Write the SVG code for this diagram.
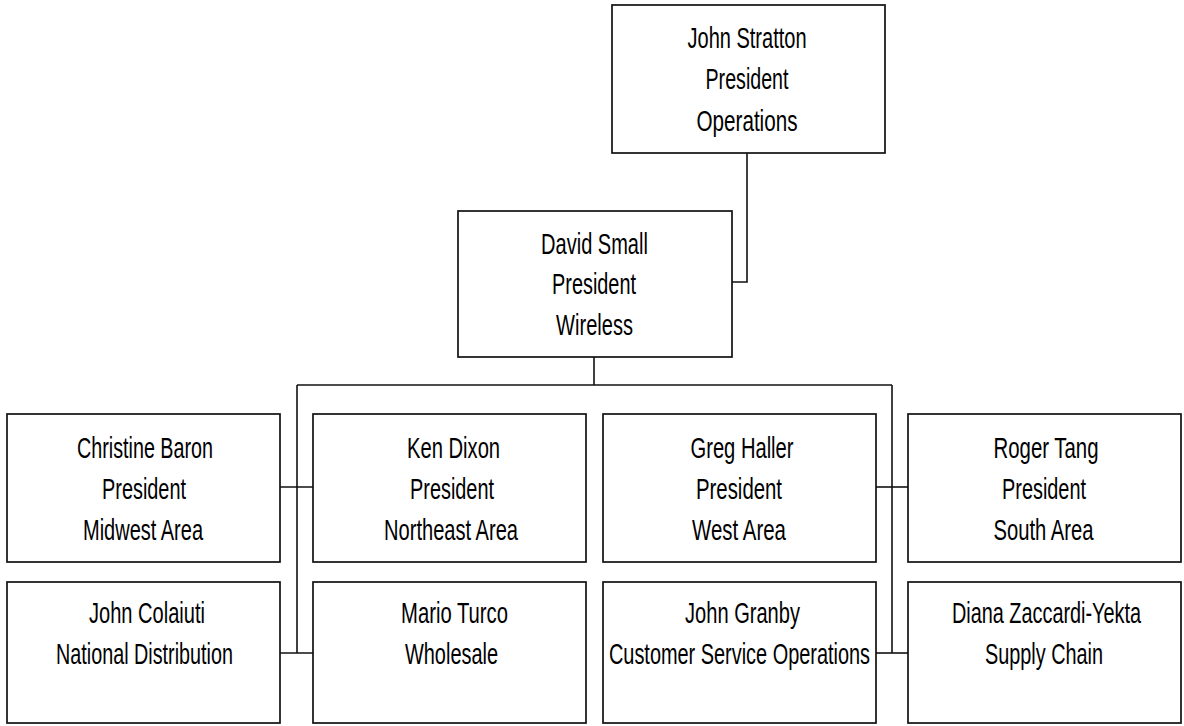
<svg xmlns="http://www.w3.org/2000/svg" width="1184" height="726" viewBox="0 0 1184 726">
<style>
.box{fill:#fff;stroke:#111;stroke-width:1.7}
.ln{fill:none;stroke:#111;stroke-width:1.6}
text{font-family:"Liberation Sans",Arial,sans-serif;font-size:29px;fill:#000;text-anchor:middle}
</style>
<rect width="1184" height="726" fill="#fff"/>
<g id="connectors">
<polyline class="ln" points="747,153 747,282 732,282"/>
<line class="ln" x1="594" y1="357" x2="594" y2="385"/>
<line class="ln" x1="297" y1="385" x2="892" y2="385"/>
<line class="ln" x1="297" y1="385" x2="297" y2="653"/>
<line class="ln" x1="892" y1="385" x2="892" y2="653"/>
<line class="ln" x1="280" y1="487" x2="313" y2="487"/>
<line class="ln" x1="280" y1="653" x2="313" y2="653"/>
<line class="ln" x1="876" y1="487" x2="908" y2="487"/>
<line class="ln" x1="876" y1="653" x2="908" y2="653"/>
</g>
<g id="john-stratton">
<rect class="box" x="612" y="5" width="273" height="148"/>
<text transform="translate(747 48) scale(0.68 1)" textLength="175" lengthAdjust="spacingAndGlyphs">John Stratton</text>
<text transform="translate(747 89) scale(0.68 1)" textLength="122" lengthAdjust="spacingAndGlyphs">President</text>
<text transform="translate(747 131) scale(0.68 1)" textLength="148.5" lengthAdjust="spacingAndGlyphs">Operations</text>
</g>
<g id="david-small">
<rect class="box" x="458" y="211" width="274" height="146"/>
<text transform="translate(594.5 254) scale(0.68 1)" textLength="157" lengthAdjust="spacingAndGlyphs">David Small</text>
<text transform="translate(594 294) scale(0.68 1)" textLength="123.5" lengthAdjust="spacingAndGlyphs">President</text>
<text transform="translate(594.5 335) scale(0.68 1)" textLength="113" lengthAdjust="spacingAndGlyphs">Wireless</text>
</g>
<g id="christine-baron">
<rect class="box" x="7" y="414" width="273" height="148"/>
<text transform="translate(145 458) scale(0.68 1)" textLength="200" lengthAdjust="spacingAndGlyphs">Christine Baron</text>
<text transform="translate(144 499) scale(0.68 1)" textLength="123.5" lengthAdjust="spacingAndGlyphs">President</text>
<text transform="translate(143 540) scale(0.68 1)" textLength="176.5" lengthAdjust="spacingAndGlyphs">Midwest Area</text>
</g>
<g id="ken-dixon">
<rect class="box" x="313" y="414" width="273" height="148"/>
<text transform="translate(453.5 458) scale(0.68 1)" textLength="137" lengthAdjust="spacingAndGlyphs">Ken Dixon</text>
<text transform="translate(452 499) scale(0.68 1)" textLength="123.5" lengthAdjust="spacingAndGlyphs">President</text>
<text transform="translate(451 540) scale(0.68 1)" textLength="197" lengthAdjust="spacingAndGlyphs">Northeast Area</text>
</g>
<g id="greg-haller">
<rect class="box" x="603" y="414" width="273" height="148"/>
<text transform="translate(742 458) scale(0.68 1)" textLength="151.5" lengthAdjust="spacingAndGlyphs">Greg Haller</text>
<text transform="translate(739 499) scale(0.68 1)" textLength="126.5" lengthAdjust="spacingAndGlyphs">President</text>
<text transform="translate(739 540) scale(0.68 1)" textLength="138" lengthAdjust="spacingAndGlyphs">West Area</text>
</g>
<g id="roger-tang">
<rect class="box" x="908" y="414" width="273" height="148"/>
<text transform="translate(1046 458) scale(0.68 1)" textLength="154.5" lengthAdjust="spacingAndGlyphs">Roger Tang</text>
<text transform="translate(1044 499) scale(0.68 1)" textLength="123.5" lengthAdjust="spacingAndGlyphs">President</text>
<text transform="translate(1043.5 540) scale(0.68 1)" textLength="147" lengthAdjust="spacingAndGlyphs">South Area</text>
</g>
<g id="john-colaiuti">
<rect class="box" x="7" y="582" width="273" height="141"/>
<text transform="translate(147 623) scale(0.68 1)" textLength="170.5" lengthAdjust="spacingAndGlyphs">John Colaiuti</text>
<text transform="translate(144.5 664) scale(0.68 1)" textLength="260" lengthAdjust="spacingAndGlyphs">National Distribution</text>
</g>
<g id="mario-turco">
<rect class="box" x="313" y="582" width="273" height="141"/>
<text transform="translate(454.5 623) scale(0.68 1)" textLength="157" lengthAdjust="spacingAndGlyphs">Mario Turco</text>
<text transform="translate(451.5 664) scale(0.68 1)" textLength="137" lengthAdjust="spacingAndGlyphs">Wholesale</text>
</g>
<g id="john-granby">
<rect class="box" x="603" y="582" width="273" height="141"/>
<text transform="translate(742.5 623) scale(0.68 1)" textLength="169" lengthAdjust="spacingAndGlyphs">John Granby</text>
<text transform="translate(739.5 664) scale(0.68 1)" textLength="384" lengthAdjust="spacingAndGlyphs">Customer Service Operations</text>
</g>
<g id="diana-zaccardi-yekta">
<rect class="box" x="908" y="582" width="273" height="141"/>
<text transform="translate(1046.5 623) scale(0.68 1)" textLength="278" lengthAdjust="spacingAndGlyphs">Diana Zaccardi-Yekta</text>
<text transform="translate(1044 664) scale(0.68 1)" textLength="173.5" lengthAdjust="spacingAndGlyphs">Supply Chain</text>
</g>
</svg>
